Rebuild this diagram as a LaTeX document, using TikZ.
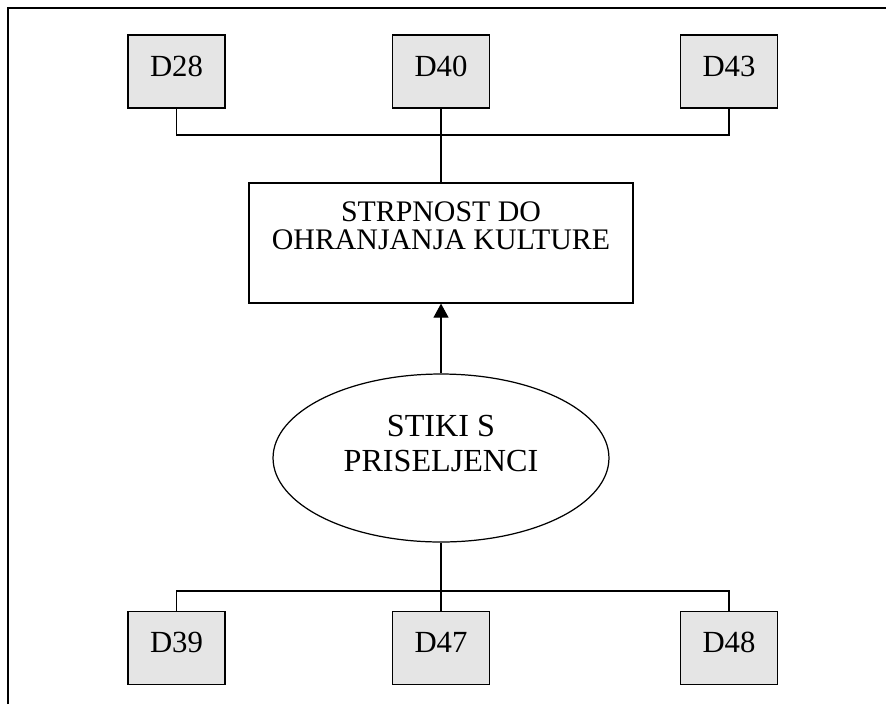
\documentclass[tikz,border=0pt]{standalone}
\usepackage{fontspec}
\setmainfont{Liberation Serif}
\usetikzlibrary{shapes.geometric, arrows.meta}

\begin{document}
\begin{tikzpicture}[x=0.02cm, y=-0.02cm, font=\fontsize{17}{16}\selectfont,
  dbox/.style={draw, fill=black!10, line width=0.7pt, minimum width=1.94cm, minimum height=1.46cm, inner sep=0pt, text depth=0.22cm, font=\fontsize{17.5}{16}\selectfont}]
\useasboundingbox (0,0) rectangle (886,704);
\draw[line width=1pt] (8,704) -- (8,8) -- (886,8);

\node[dbox] (d28) at (176.5,71.5) {D28};
\node[dbox] (d40) at (441,71.5) {D40};
\node[dbox] (d43) at (729,71.5) {D43};

\node[draw, line width=0.7pt, minimum width=7.68cm, minimum height=2.4cm, align=center, text depth=0.68cm] (strpnost) at (441,243) {STRPNOST DO\\OHRANJANJA KULTURE};
\node[draw, ellipse, line width=0.7pt, minimum width=6.72cm, minimum height=3.36cm, inner sep=0pt, align=center, text depth=0.6cm, font=\fontsize{18.3}{19.9}\selectfont] (stiki) at (441,458) {STIKI S\\PRISELJENCI};

\node[dbox] (d39) at (176.5,648) {D39};
\node[dbox] (d47) at (441,648) {D47};
\node[dbox] (d48) at (729,648) {D48};

\coordinate (topbus) at (441,135);
\coordinate (botbus) at (441,591);
\draw[line width=0.6pt] (d28.south) |- (topbus) -| (d43.south);
\draw[line width=0.6pt] (d40) -- (strpnost);
\draw[line width=0.6pt, -{Triangle[width=0.3cm, length=0.28cm]}] (stiki) -- (strpnost);
\draw[line width=0.6pt] (d39.north) |- (botbus) -| (d48.north);
\draw[line width=0.6pt] (stiki) -- (d47);

\end{tikzpicture}
\end{document}
